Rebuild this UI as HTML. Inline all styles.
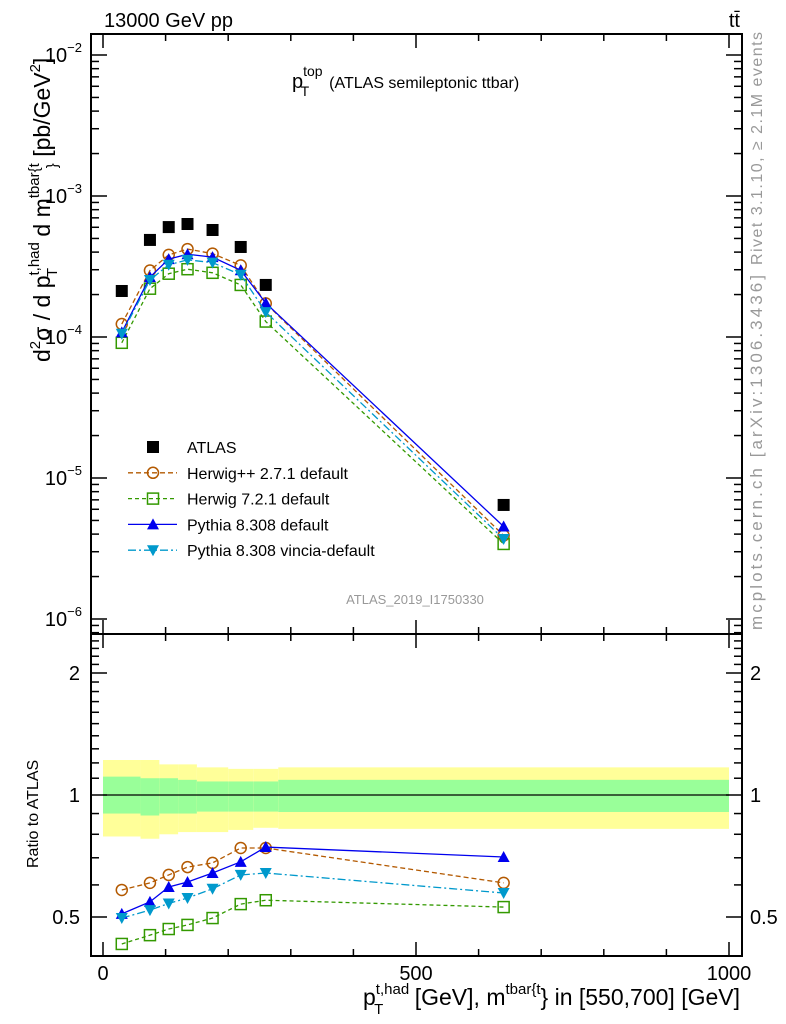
<!DOCTYPE html>
<html><head><meta charset="utf-8"><style>
html,body{margin:0;padding:0;background:#fff}
svg{display:block;font-family:"Liberation Sans",Arial,sans-serif}
</style></head><body>
<svg id="chart" width="786" height="1024" viewBox="0 0 786 1024">
<g id="bands"></g>
<g id="grid"></g>
<g id="series"></g>
<text x="104" y="27" font-size="20">13000 GeV pp</text>
<text x="740" y="27" font-size="20" text-anchor="end">tt̄</text>
<text x="292" y="88" font-size="20">p<tspan font-size="14" dy="-12">top</tspan><tspan font-size="14" dx="-22" dy="20">T</tspan><tspan dy="-8" dx="20" font-size="16">(ATLAS semileptonic ttbar)</tspan></text>
<text x="415" y="604" font-size="13" fill="#999" text-anchor="middle">ATLAS_2019_I1750330</text>
<text transform="translate(762,265) rotate(-90)" font-size="16" fill="#999" textLength="233" lengthAdjust="spacing">Rivet 3.1.10, ≥ 2.1M events</text>
<text transform="translate(762,630) rotate(-90)" font-size="17" fill="#999" textLength="355" lengthAdjust="spacing">mcplots.cern.ch [arXiv:1306.3436]</text>
<text transform="translate(50,362) rotate(-90)" font-size="23">d<tspan font-size="15" dy="-10">2</tspan><tspan dy="10">σ / d p</tspan><tspan font-size="15" dy="-11">t,had</tspan><tspan font-size="15" dx="-35" dy="18">T</tspan><tspan dy="-7" dx="25"> d m</tspan><tspan font-size="15" dy="-11">tbar{t</tspan><tspan font-size="15" dx="-5" dy="18">}</tspan><tspan dy="-7"> [pb/GeV</tspan><tspan font-size="15" dy="-10">2</tspan><tspan dy="10">]</tspan></text>
<text transform="translate(38,868) rotate(-90)" font-size="16">Ratio to ATLAS</text>
<text x="740" y="1005" font-size="23" text-anchor="end">p<tspan font-size="15" dy="-11">t,had</tspan><tspan font-size="15" dx="-35" dy="20">T</tspan><tspan dy="-9" dx="25"> [GeV], m</tspan><tspan font-size="15" dy="-11">tbar{t</tspan><tspan dy="11" font-size="23">} in [550,700] [GeV]</tspan></text>
<g id="legend"></g>
</svg>
<script>
const xCenters=[30,75,105,135,175,220,260,640];
const binEdges=[0,60,90,120,150,200,240,280,1000];
const atlas=[2.12e-4,4.88e-4,6.02e-4,6.33e-4,5.74e-4,4.35e-4,2.34e-4,6.44e-6];
const ratioHpp=[0.583,0.607,0.635,0.664,0.680,0.740,0.740,0.607];
const ratioH7=[0.429,0.451,0.467,0.478,0.497,0.538,0.550,0.529];
const ratioPy=[0.509,0.545,0.593,0.610,0.642,0.684,0.744,0.703];
const ratioVin=[0.497,0.520,0.540,0.557,0.587,0.635,0.642,0.573];
const yelTop=[1.22,1.22,1.19,1.19,1.17,1.16,1.16,1.17];
const grnTop=[1.11,1.10,1.10,1.09,1.08,1.08,1.08,1.09];
const grnBot=[0.90,0.89,0.90,0.90,0.91,0.91,0.91,0.908];
const yelBot=[0.79,0.78,0.80,0.81,0.81,0.82,0.83,0.825];
const xTicks=[0,500,1000];
const mainTicks=[-6,-5,-4,-3,-2];
const ratioTicks=[0.5,1,2];

const NS='http://www.w3.org/2000/svg';
const L=91,R=742,T=34,M=634,B=956;
const X=v=>103+v*0.626;
const Ym=v=>196-(Math.log10(v)+3)*141;
const Yr=v=>795-Math.log2(v)*122;
function mk(tag,attrs,parent){const e=document.createElementNS(NS,tag);for(const k in attrs)e.setAttribute(k,attrs[k]);parent.appendChild(e);return e;}
const grid=document.getElementById('grid'),bands=document.getElementById('bands'),ser=document.getElementById('series'),leg=document.getElementById('legend');

for(let i=0;i<binEdges.length-1;i++){
  const x0=X(binEdges[i]),x1=X(binEdges[i+1]);
  const y=mk('rect',{x:x0,y:Yr(yelTop[i]),width:x1-x0,height:Yr(yelBot[i])-Yr(yelTop[i]),fill:'#ffff99'},bands);
  
  
  const g=mk('rect',{x:x0,y:Yr(grnTop[i]),width:x1-x0,height:Yr(grnBot[i])-Yr(grnTop[i]),fill:'#99ff99'},bands);
  
  
}
const one=mk('line',{x1:X(0),x2:X(1000),y1:Yr(1),y2:Yr(1),stroke:'#000','stroke-width':1.2},bands);



for(const [y0,y1] of [[T,M],[M,B]]){
  const f=mk('rect',{x:L,y:y0,width:R-L,height:y1-y0,fill:'none',stroke:'#000','stroke-width':2},grid);
  
  
}
for(let v=0;v<=1000;v+=100){
  const big=v%500===0;const len=big?14:7;
  for(const [yb,ye] of [[T,T+len],[M,M-len],[M,M+len],[B,B-len]]) mk('line',{x1:X(v),x2:X(v),y1:yb,y2:ye,stroke:'#000','stroke-width':1.5},grid);
}
xTicks.forEach(v=>{const t=mk('text',{x:X(v),y:980,'font-size':20,'text-anchor':'middle'},grid);t.textContent=v;

});
for(let d=-7;d<=-2;d++)for(let m=1;m<10;m++){const v=m*Math.pow(10,d);const y=Ym(v);if(y<T||y>M)continue;const len=m===1?16:8;
  mk('line',{x1:L,x2:L+len,y1:y,y2:y,stroke:'#000','stroke-width':1.5},grid);mk('line',{x1:R,x2:R-len,y1:y,y2:y,stroke:'#000','stroke-width':1.5},grid);}
mainTicks.forEach(d=>{const t=mk('text',{x:82,y:Ym(Math.pow(10,d))+7,'font-size':20,'text-anchor':'end'},grid);
t.innerHTML='10<tspan font-size="13" dy="-10">−'+(-d)+'</tspan>';

});
for(let v=0.4;v<=2.6;v+=0.1){const y=Yr(v);if(y<M||y>B)continue;const r=Math.round(v*10)/10;const big=(r===0.5||r===1||r===2);const len=big?16:8;
  mk('line',{x1:L,x2:L+len,y1:y,y2:y,stroke:'#000','stroke-width':1.5},grid);mk('line',{x1:R,x2:R-len,y1:y,y2:y,stroke:'#000','stroke-width':1.5},grid);}
ratioTicks.forEach(v=>{const y=Yr(v)+7;
 const a=mk('text',{x:80,y:y,'font-size':20,'text-anchor':'end'},grid);a.textContent=v;
 
 
 const b=mk('text',{x:750,y:y,'font-size':20},grid);b.textContent=v;
 
 });

function marker(kind,x,y,col,parent){
  if(kind==='sq')return mk('rect',{x:x-6,y:y-6,width:12,height:12,fill:'#000'},parent);
  if(kind==='circ')return mk('circle',{cx:x,cy:y,r:5.5,fill:'none',stroke:col,'stroke-width':1.5},parent);
  if(kind==='osq')return mk('rect',{x:x-5.5,y:y-5.5,width:11,height:11,fill:'none',stroke:col,'stroke-width':1.5},parent);
  if(kind==='up')return mk('path',{d:`M${x-6},${y+5}L${x+6},${y+5}L${x},${y-6}Z`,fill:col},parent);
  return mk('path',{d:`M${x-6},${y-5}L${x+6},${y-5}L${x},${y+6}Z`,fill:col},parent);
}
const mcs=[
 {n:'herwigpp',r:ratioHpp,c:'#b35900',k:'circ',d:'5,3',label:'Herwig++ 2.7.1 default'},
 {n:'herwig7',r:ratioH7,c:'#339900',k:'osq',d:'4,3',label:'Herwig 7.2.1 default'},
 {n:'pythia',r:ratioPy,c:'#0000ee',k:'up',d:'',label:'Pythia 8.308 default'},
 {n:'vincia',r:ratioVin,c:'#0099cc',k:'down',d:'8,3,2,3',label:'Pythia 8.308 vincia-default'}];
mcs.forEach(s=>{
  const main=s.r.map((r,i)=>r*atlas[i]);
  const p1=mk('polyline',{points:xCenters.map((x,i)=>X(x)+','+Ym(main[i])).join(' '),fill:'none',stroke:s.c,'stroke-width':1.3,'stroke-dasharray':s.d},ser);
  
  
  const p2=mk('polyline',{points:xCenters.map((x,i)=>X(x)+','+Yr(s.r[i])).join(' '),fill:'none',stroke:s.c,'stroke-width':1.3,'stroke-dasharray':s.d},ser);
  
  
  xCenters.forEach((x,i)=>{
    const m=marker(s.k,X(x),Ym(main[i]),s.c,ser);
    
    
    const m2=marker(s.k,X(x),Yr(s.r[i]),s.c,ser);
    
    
  });
});
xCenters.forEach((x,i)=>{const m=marker('sq',X(x),Ym(atlas[i]),'#000',ser);
  
  });

const rows=[{k:'sq',c:'#000',d:null,label:'ATLAS'}].concat(mcs);
rows.forEach((s,i)=>{const y=447+i*25.8;
  const g=mk('g',{},leg);
  
  
  if(s.d!==null)mk('line',{x1:128,x2:177,y1:y,y2:y,stroke:s.c,'stroke-width':1.3,'stroke-dasharray':s.d},g);
  marker(s.k,153,y,s.c,g);
  const t=mk('text',{x:187,y:y+6,'font-size':16},g);t.textContent=s.label;});
</script>
</body></html>
